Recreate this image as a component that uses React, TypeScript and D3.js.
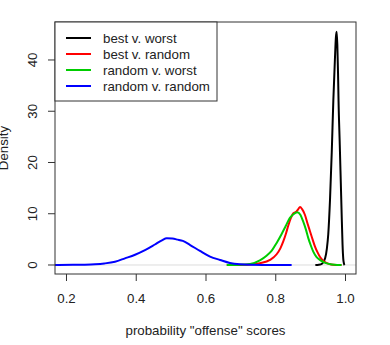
import React, { useRef, useEffect } from "react";
import * as d3 from "d3";

// density estimates: [score, density]
const bestVWorst: [number, number][] = [
  [0.915, 0], [0.925, 0.05], [0.935, 0.3], [0.943, 1.3], [0.948, 3.2], [0.952, 6],
  [0.957, 12.7], [0.962, 22], [0.9665, 32], [0.971, 40], [0.974, 44.5], [0.976, 45.5],
  [0.978, 43], [0.98, 37.5], [0.9815, 32], [0.985, 23.5], [0.988, 16], [0.991, 8.5],
  [0.993, 3.9], [0.995, 1.2], [0.997, 0.3], [0.999, 0],
];

const bestVRandom: [number, number][] = [
  [0.661, 0], [0.72, 0.05], [0.756, 0.35], [0.785, 1.0], [0.804, 2.1], [0.815, 3.3],
  [0.823, 4.6], [0.831, 6.2], [0.837, 7.6], [0.845, 9.2], [0.852, 10.1], [0.86, 10.4],
  [0.866, 10.9], [0.871, 11.3], [0.877, 10.9], [0.885, 9.8], [0.893, 8.0], [0.9, 6.5],
  [0.907, 5.0], [0.914, 3.6], [0.921, 2.5], [0.928, 1.6], [0.938, 0.8], [0.948, 0.35],
  [0.96, 0.1], [0.976, 0.02], [0.99, 0],
];

const randomVWorst: [number, number][] = [
  [0.661, 0], [0.7, 0.05], [0.728, 0.2], [0.756, 0.9], [0.775, 1.8], [0.79, 2.8],
  [0.804, 4.3], [0.818, 6.0], [0.83, 7.6], [0.842, 9.2], [0.852, 9.9], [0.863, 10.3],
  [0.872, 9.8], [0.88, 8.5], [0.888, 6.9], [0.895, 5.2], [0.902, 3.8], [0.909, 2.6],
  [0.918, 1.6], [0.928, 1.0], [0.94, 0.5], [0.955, 0.2], [0.97, 0.05], [0.99, 0],
];

const randomVRandom: [number, number][] = [
  [0.1, 0], [0.168, 0.01], [0.22, 0.03], [0.25, 0.06], [0.283, 0.14], [0.31, 0.3],
  [0.3405, 0.64], [0.369, 1.3], [0.398, 2.0], [0.4265, 2.9], [0.455, 4.0], [0.475, 4.8],
  [0.489, 5.2], [0.505, 5.15], [0.52, 4.95], [0.535, 4.7], [0.556, 3.9], [0.584, 2.75],
  [0.613, 1.65], [0.642, 0.98], [0.67, 0.4], [0.699, 0.14], [0.73, 0.05], [0.77, 0.02],
  [0.847, 0],
];

const seriesNames = ["best v. worst", "best v. random", "random v. worst", "random v. random"];
const seriesColors = ["#000000", "#ff0000", "#00cd00", "#0000ff"];
const xTicks = [0.2, 0.4, 0.6, 0.8, 1.0];
const yTicks = [0, 10, 20, 30, 40];

export default function App() {
  const svgRef = useRef<SVGSVGElement | null>(null);

  useEffect(() => {
    const svg = d3.select(svgRef.current);
    svg.selectAll("*").remove();

    const left = 55, right = 356, top = 22, bottom = 274;
    const font = "'Liberation Sans', Arial, sans-serif";
    const fs = 13.3;

    const x = d3.scaleLinear().domain([0.16846, 1.03154]).range([left, right]);
    const y = d3.scaleLinear().domain([-1.756, 47.41]).range([bottom, top]);

    svg.append("defs").append("clipPath").attr("id", "plotclip")
      .append("rect").attr("x", left).attr("y", top)
      .attr("width", right - left).attr("height", bottom - top);

    // zero line
    svg.append("line")
      .attr("x1", left).attr("x2", right)
      .attr("y1", y(0)).attr("y2", y(0))
      .attr("stroke", "#dcdcdc").attr("stroke-width", 1);

    const line = d3.line<[number, number]>()
      .x((d) => x(d[0]))
      .y((d) => y(d[1]))
      .curve(d3.curveMonotoneX);

    const all = [bestVWorst, bestVRandom, randomVWorst, randomVRandom];
    const g = svg.append("g").attr("clip-path", "url(#plotclip)");
    all.forEach((pts, i) => {
      g.append("path")
        .datum(pts)
        .attr("fill", "none")
        .attr("stroke", seriesColors[i])
        .attr("stroke-width", 2)
        .attr("stroke-linejoin", "round")
        .attr("d", line);
    });

    // box
    svg.append("rect")
      .attr("x", left).attr("y", top)
      .attr("width", right - left).attr("height", bottom - top)
      .attr("fill", "none").attr("stroke", "#333").attr("stroke-width", 1);

    // x axis
    const xAxis = svg.append("g")
      .attr("transform", `translate(0,${bottom})`)
      .call(d3.axisBottom(x).tickValues(xTicks).tickSize(7).tickPadding(12.5).tickFormat(d3.format(".1f")));
    xAxis.select(".domain").remove();
    xAxis.selectAll("line").attr("stroke", "#333");
    xAxis.selectAll("text").attr("font-family", font).attr("font-size", fs).attr("fill", "#222");

    // y axis, R style rotated labels
    const yAxis = svg.append("g");
    yTicks.forEach((t) => {
      yAxis.append("line")
        .attr("x1", left - 7).attr("x2", left)
        .attr("y1", y(t)).attr("y2", y(t))
        .attr("stroke", "#333");
      yAxis.append("text")
        .attr("transform", `translate(37,${y(t)}) rotate(-90)`)
        .attr("text-anchor", "middle")
        .attr("font-family", font).attr("font-size", fs).attr("fill", "#222")
        .text(t);
    });

    svg.append("text")
      .attr("transform", `translate(8,${(top + bottom) / 2}) rotate(-90)`)
      .attr("text-anchor", "middle")
      .attr("font-family", font).attr("font-size", fs).attr("fill", "#222")
      .text("Density");

    svg.append("text")
      .attr("x", (left + right) / 2).attr("y", 335)
      .attr("text-anchor", "middle")
      .attr("font-family", font).attr("font-size", fs).attr("fill", "#222")
      .text('probability "offense" scores');

    // legend
    const legend = svg.append("g");
    legend.append("rect")
      .attr("x", left).attr("y", top)
      .attr("width", 217 - left).attr("height", 101 - top)
      .attr("fill", "white").attr("stroke", "#333").attr("stroke-width", 1);
    seriesNames.forEach((name, i) => {
      const ly = 38 + i * 16;
      legend.append("line")
        .attr("x1", 66).attr("x2", 91)
        .attr("y1", ly).attr("y2", ly)
        .attr("stroke", seriesColors[i]).attr("stroke-width", 2);
      legend.append("text")
        .attr("x", 103).attr("y", ly).attr("dy", "0.35em")
        .attr("font-family", font).attr("font-size", fs).attr("fill", "#222")
        .text(name);
    });
  }, []);

  return (
    <div style={{ position: "absolute", left: 0, top: 0 }}>
      <svg ref={svgRef} width={390} height={345} style={{ display: "block", background: "white" }}></svg>
    </div>
  );
}
